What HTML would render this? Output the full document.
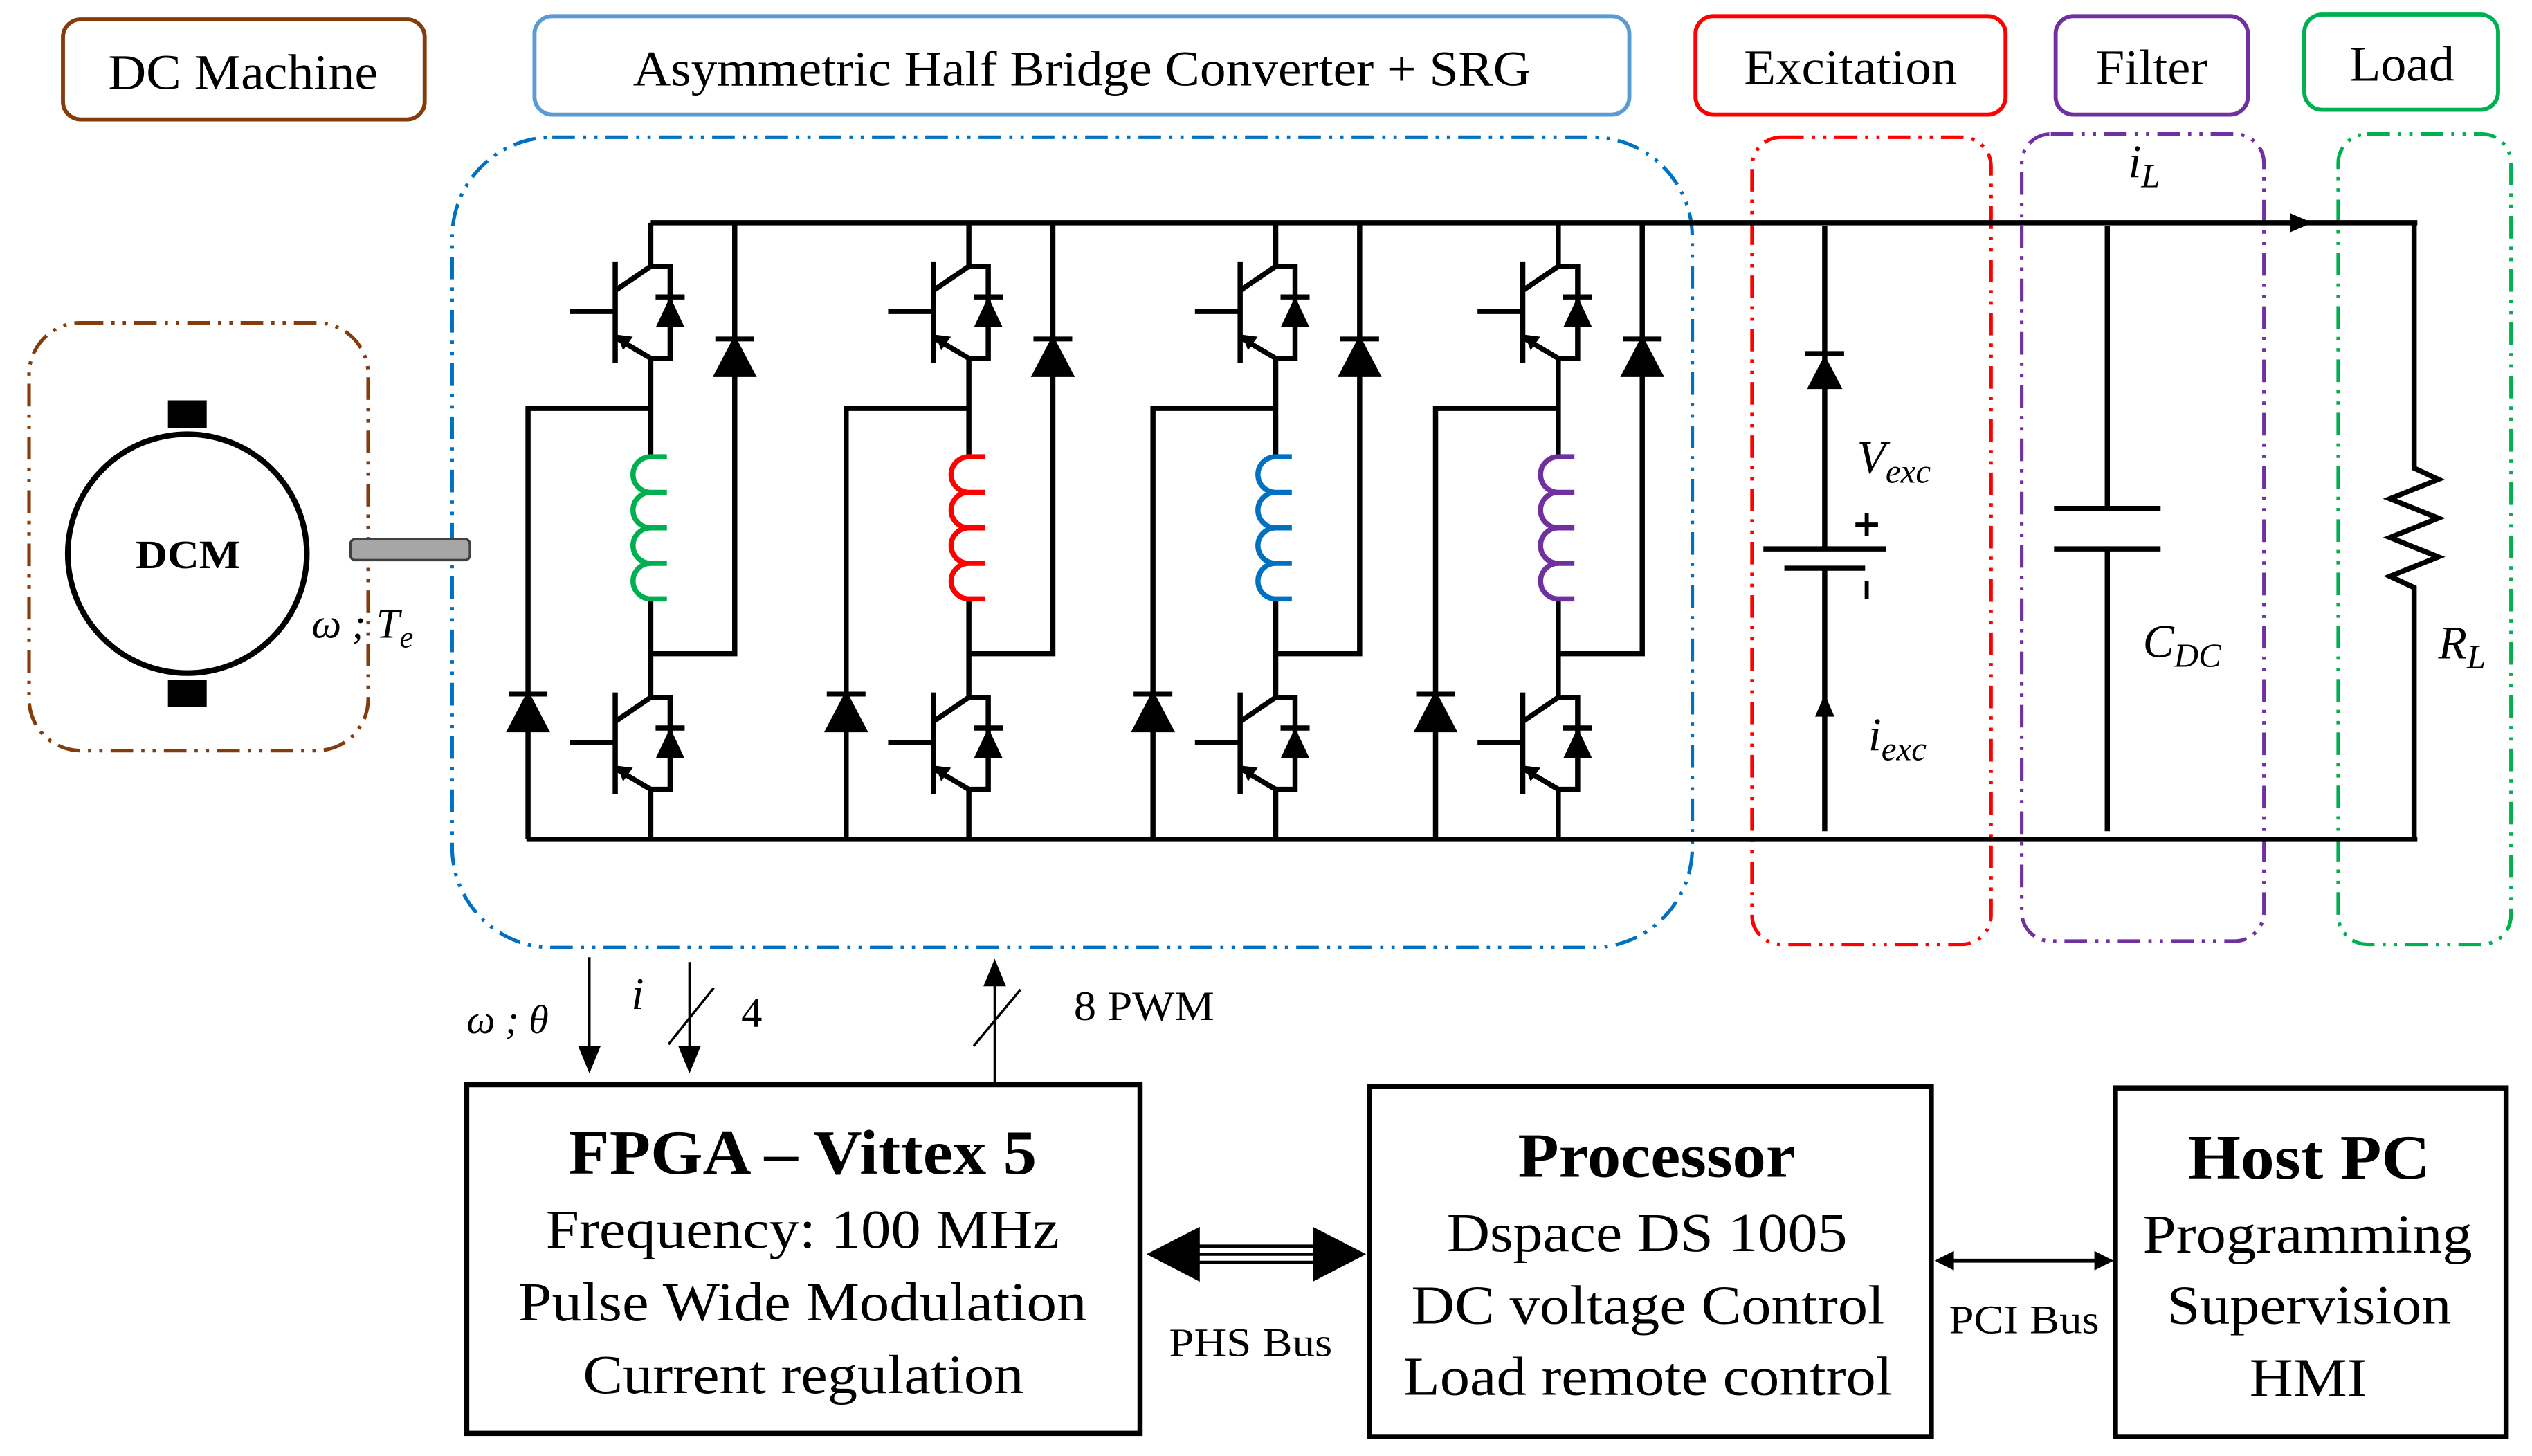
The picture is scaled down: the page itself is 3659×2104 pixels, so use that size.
<!DOCTYPE html>
<html><head><meta charset="utf-8"><style>
html,body{margin:0;padding:0;background:#fff;}
svg{display:block;}
text{font-family:"Liberation Serif",serif;fill:#000;}
</style></head><body>
<svg width="3659" height="2104" viewBox="0 0 1568 902" preserveAspectRatio="none" xmlns="http://www.w3.org/2000/svg">
<defs>
<g id="igbt" stroke="#000" stroke-width="3.2" fill="none">
  <line x1="-22" y1="-3" x2="-22" y2="60"/>
  <line x1="-50" y1="28" x2="-22" y2="28"/>
  <line x1="-22" y1="15" x2="0" y2="0"/>
  <line x1="-22" y1="44" x2="0" y2="57"/>
  <polygon points="-20,43 -12,44 -17,51" fill="#000" stroke-width="1"/>
  <polyline points="0,0 12,0 12,57 0,57"/>
  <line x1="3" y1="19" x2="21" y2="19"/>
  <polygon points="12,20 4,37 20,37" fill="#000" stroke-width="1"/>
</g>
<g id="diode">
  <line x1="-12" y1="0" x2="12" y2="0" stroke="#000" stroke-width="3"/>
  <polygon points="0,1 -11,22 11,22" fill="#000"/>
</g>
<g id="leg" stroke="#000" stroke-width="3.2" fill="none">
  <line x1="0" y1="138" x2="0" y2="165"/>
  <use href="#igbt" transform="translate(0,165)"/>
  <line x1="0" y1="222" x2="0" y2="283"/>
  <polyline points="-76,520 -76,253 0,253"/>
  <line x1="0" y1="372" x2="0" y2="432"/>
  <polyline points="0,405 52,405 52,138"/>
  <use href="#igbt" transform="translate(0,432)"/>
  <line x1="0" y1="489" x2="0" y2="520"/>
  <use href="#diode" transform="translate(52,210)"/>
  <use href="#diode" transform="translate(-76,430)"/>
</g>
</defs>

<!-- label boxes -->
<g fill="none" stroke-width="2.5">
<rect x="39" y="12" width="224" height="62" rx="11" stroke="#843c0c"/>
<rect x="331" y="10" width="678" height="61" rx="11" stroke="#5b9bd5"/>
<rect x="1050" y="10" width="192" height="61" rx="11" stroke="#ff0000"/>
<rect x="1273" y="10" width="119" height="61" rx="11" stroke="#7030a0"/>
<rect x="1427" y="9" width="120" height="59" rx="11" stroke="#00b050"/>
</g>
<g lengthAdjust="spacingAndGlyphs">
<text x="67" y="55" font-size="31" textLength="167" lengthAdjust="spacingAndGlyphs">DC Machine</text>
<text x="392" y="53" font-size="31" textLength="556" lengthAdjust="spacingAndGlyphs">Asymmetric Half Bridge Converter + SRG</text>
<text x="1080" y="52" font-size="31" textLength="132" lengthAdjust="spacingAndGlyphs">Excitation</text>
<text x="1298" y="52" font-size="31" textLength="69" lengthAdjust="spacingAndGlyphs">Filter</text>
<text x="1455" y="50" font-size="31" textLength="65" lengthAdjust="spacingAndGlyphs">Load</text>
</g>

<!-- dashed region boxes -->
<g fill="none" stroke-width="2.2" stroke-dasharray="14 5 2 5 2 5">
<rect x="18" y="200" width="210" height="265" rx="32" stroke="#843c0c"/>
<rect x="280" y="85" width="768" height="502" rx="62" stroke="#0070c0"/>
<rect x="1085" y="85" width="148" height="500" rx="18" stroke="#ff0000"/>
<rect x="1252" y="83" width="150" height="500" rx="18" stroke="#7030a0"/>
<rect x="1448" y="83" width="107" height="502" rx="18" stroke="#00b050"/>
</g>

<!-- DC machine -->
<circle cx="116" cy="343" r="74" fill="none" stroke="#000" stroke-width="3.5"/>
<rect x="104" y="248" width="24" height="17" fill="#000"/>
<rect x="104" y="421" width="24" height="17" fill="#000"/>
<text x="84" y="352" font-size="25" font-weight="bold" textLength="65" lengthAdjust="spacingAndGlyphs">DCM</text>
<rect x="217" y="334" width="74" height="13" rx="3" fill="#a6a6a6" stroke="#404040" stroke-width="1.5"/>
<text x="193" y="395" font-size="26" font-style="italic">ω ; T<tspan font-size="19" dy="6">e</tspan></text>

<!-- buses -->
<g stroke="#000" stroke-width="3.2" fill="none">
<line x1="403" y1="138" x2="1497" y2="138"/>
<line x1="326" y1="520" x2="1497" y2="520"/>
</g>
<polygon points="1432,138 1418,132 1418,144" fill="#000"/>

<!-- legs -->
<use href="#leg" transform="translate(403,0)"/>
<use href="#leg" transform="translate(600,0)"/>
<use href="#leg" transform="translate(790,0)"/>
<use href="#leg" transform="translate(965,0)"/>

<!-- coils -->
<g fill="none" stroke-width="3.2">
<path d="M413,283 h-10 a11,11 0 0 0 0,22 h10 M403,305 a11,11 0 0 0 0,22 h10 M403,327 a11,11 0 0 0 0,22 h10 M403,349 a11,11 0 0 0 0,22 h10" stroke="#00b050"/>
<path d="M610,283 h-10 a11,11 0 0 0 0,22 h10 M600,305 a11,11 0 0 0 0,22 h10 M600,327 a11,11 0 0 0 0,22 h10 M600,349 a11,11 0 0 0 0,22 h10" stroke="#ff0000"/>
<path d="M800,283 h-10 a11,11 0 0 0 0,22 h10 M790,305 a11,11 0 0 0 0,22 h10 M790,327 a11,11 0 0 0 0,22 h10 M790,349 a11,11 0 0 0 0,22 h10" stroke="#0070c0"/>
<path d="M975,283 h-10 a11,11 0 0 0 0,22 h10 M965,305 a11,11 0 0 0 0,22 h10 M965,327 a11,11 0 0 0 0,22 h10 M965,349 a11,11 0 0 0 0,22 h10" stroke="#7030a0"/>
</g>

<!-- excitation -->
<g stroke="#000" stroke-width="3.2" fill="none">
<line x1="1130" y1="140" x2="1130" y2="340"/>
<line x1="1092" y1="340" x2="1168" y2="340"/>
<line x1="1105" y1="352" x2="1155" y2="352"/>
<line x1="1130" y1="352" x2="1130" y2="515"/>
<line x1="1149" y1="325" x2="1163" y2="325" stroke-width="2.5"/>
<line x1="1156" y1="318" x2="1156" y2="332" stroke-width="2.5"/>
<line x1="1156" y1="360" x2="1156" y2="371" stroke-width="2.5"/>
</g>
<use href="#diode" transform="translate(1130,219)"/>
<polygon points="1130,430 1124,444 1136,444" fill="#000"/>
<text x="1150" y="293" font-size="29" font-style="italic">V<tspan font-size="21" dy="6">exc</tspan></text>
<text x="1157" y="465" font-size="29" font-style="italic">i<tspan font-size="21" dy="6">exc</tspan></text>

<!-- filter -->
<g stroke="#000" stroke-width="3.2" fill="none">
<line x1="1305" y1="140" x2="1305" y2="315"/>
<line x1="1272" y1="315" x2="1338" y2="315"/>
<line x1="1272" y1="340" x2="1338" y2="340"/>
<line x1="1305" y1="340" x2="1305" y2="515"/>
</g>
<text x="1327" y="407" font-size="29" font-style="italic">C<tspan font-size="21" dy="6">DC</tspan></text>
<text x="1318" y="110" font-size="29" font-style="italic">i<tspan font-size="21" dy="6">L</tspan></text>

<!-- load -->
<polyline points="1495,138 1495,290 1510,297 1480,309 1510,321 1480,333 1510,345 1480,357 1495,364 1495,520" fill="none" stroke="#000" stroke-width="3.2"/>
<text x="1510" y="408" font-size="29" font-style="italic">R<tspan font-size="21" dy="6">L</tspan></text>

<!-- signal arrows -->
<g stroke="#000" stroke-width="1.5" fill="none">
<line x1="365" y1="593" x2="365" y2="652"/>
<line x1="427" y1="596" x2="427" y2="652"/>
<line x1="414" y1="647" x2="442" y2="612"/>
<line x1="616" y1="608" x2="616" y2="672"/>
<line x1="603" y1="648" x2="632" y2="613"/>
</g>
<polygon points="365,665 358,648 372,648" fill="#000"/>
<polygon points="427,665 420,648 434,648" fill="#000"/>
<polygon points="616,594 609,611 623,611" fill="#000"/>
<text x="289" y="640" font-size="25" font-style="italic">ω ; θ</text>
<text x="391" y="625" font-size="28" font-style="italic">i</text>
<text x="459" y="636" font-size="26">4</text>
<text x="665" y="632" font-size="26" textLength="87" lengthAdjust="spacingAndGlyphs">8 PWM</text>

<!-- bottom boxes -->
<g fill="none" stroke="#000" stroke-width="3.2">
<rect x="289" y="672" width="417" height="216"/>
<rect x="848" y="673" width="348" height="217"/>
<rect x="1310" y="674" width="242" height="216"/>
</g>
<g>
<text x="352" y="727" font-size="39" font-weight="bold" textLength="290" lengthAdjust="spacingAndGlyphs">FPGA – Vittex 5</text>
<text x="338" y="773" font-size="34" textLength="318" lengthAdjust="spacingAndGlyphs">Frequency: 100 MHz</text>
<text x="321" y="818" font-size="34" textLength="352" lengthAdjust="spacingAndGlyphs">Pulse Wide Modulation</text>
<text x="361" y="863" font-size="34" textLength="273" lengthAdjust="spacingAndGlyphs">Current regulation</text>
<text x="940" y="729" font-size="39" font-weight="bold" textLength="172" lengthAdjust="spacingAndGlyphs">Processor</text>
<text x="896" y="775" font-size="34" textLength="248" lengthAdjust="spacingAndGlyphs">Dspace DS 1005</text>
<text x="874" y="820" font-size="34" textLength="293" lengthAdjust="spacingAndGlyphs">DC voltage Control</text>
<text x="869" y="864" font-size="34" textLength="303" lengthAdjust="spacingAndGlyphs">Load remote control</text>
<text x="1355" y="730" font-size="39" font-weight="bold" textLength="150" lengthAdjust="spacingAndGlyphs">Host PC</text>
<text x="1327" y="776" font-size="34" textLength="204" lengthAdjust="spacingAndGlyphs">Programming</text>
<text x="1342" y="820" font-size="34" textLength="176" lengthAdjust="spacingAndGlyphs">Supervision</text>
<text x="1393" y="865" font-size="34" textLength="73" lengthAdjust="spacingAndGlyphs">HMI</text>
<text x="724" y="840" font-size="25" textLength="101" lengthAdjust="spacingAndGlyphs">PHS Bus</text>
<text x="1207" y="826" font-size="25" textLength="93" lengthAdjust="spacingAndGlyphs">PCI Bus</text>
</g>

<!-- PHS bus arrow -->
<g stroke="#000" stroke-width="2">
<line x1="740" y1="772" x2="815" y2="772"/>
<line x1="740" y1="777" x2="815" y2="777"/>
<line x1="740" y1="782" x2="815" y2="782"/>
</g>
<polygon points="710,777 743,760 743,794" fill="#000"/>
<polygon points="846,777 813,760 813,794" fill="#000"/>
<!-- PCI arrow -->
<line x1="1205" y1="781" x2="1302" y2="781" stroke="#000" stroke-width="2.5"/>
<polygon points="1198,781 1210,775 1210,787" fill="#000"/>
<polygon points="1309,781 1297,775 1297,787" fill="#000"/>
</svg>
</body></html>
